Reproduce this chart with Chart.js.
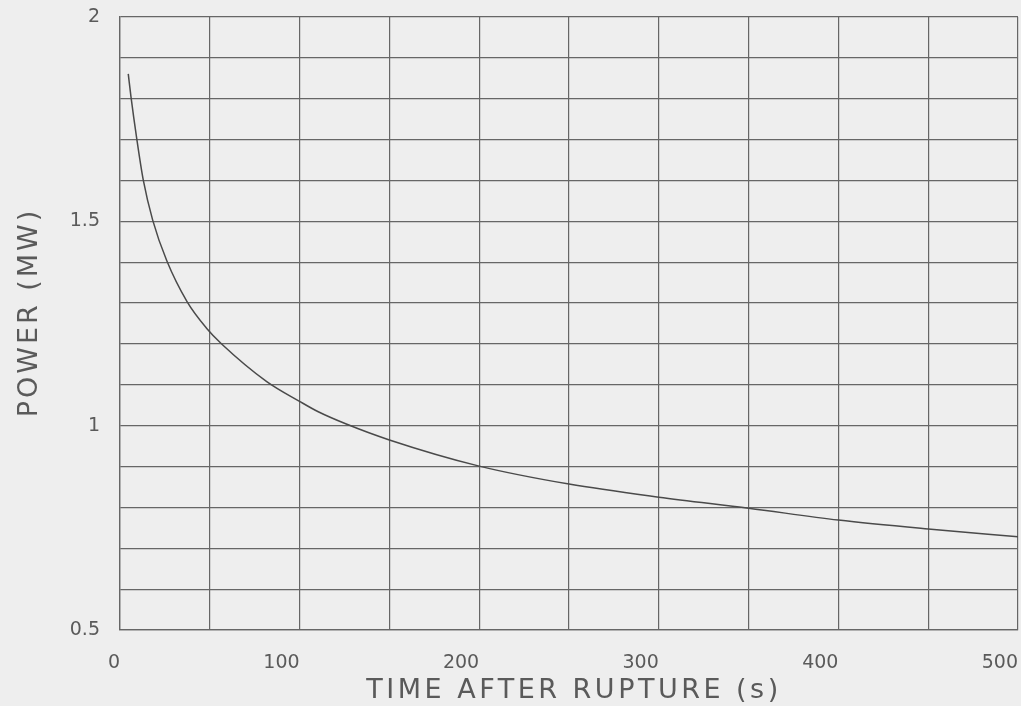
<!DOCTYPE html>
<html>
<head>
<meta charset="utf-8">
<script src="https://cdn.jsdelivr.net/npm/chart.js@4/dist/chart.umd.min.js"></script>
<style>
  html, body { margin: 0; padding: 0; background: #eeeeee; }
  #wrap { width: 1021px; height: 706px; }
</style>
</head>
<body>
<div id="wrap"><canvas id="c" width="1021" height="706"></canvas></div>
<script>
// Data
const timeSeconds = [4.6, 6.1, 9.3, 13, 18.2, 26, 37.4, 48.3, 56.6, 81.7, 100.2, 110.4, 126, 150, 200, 250, 300, 350, 400, 450, 500];
const powerMW     = [1.861, 1.805, 1.703, 1.60, 1.503, 1.404, 1.303, 1.238, 1.200, 1.108, 1.059, 1.034, 1.004, 0.965, 0.901, 0.857, 0.825, 0.798, 0.769, 0.747, 0.728];
const xTickLabels = [0, 100, 200, 300, 400, 500];
const yTickLabels = [0.5, 1, 1.5, 2];
const xTitle = 'TIME AFTER RUPTURE (s)';
const yTitle = 'POWER (MW)';

const ink = '#5a5a5a';
const gridInk = '#666666';

const bgPlugin = {
  id: 'bg',
  beforeDraw(chart) {
    const ctx = chart.ctx;
    ctx.save();
    ctx.fillStyle = '#eeeeee';
    ctx.fillRect(0, 0, chart.width, chart.height);
    ctx.restore();
  }
};

// spaced lettering for the axis titles only
function spaceTitle(scale, spacing, dx, dy) {
  if (scale._spacedTitle) return;
  scale._spacedTitle = true;
  const orig = scale.drawTitle;
  scale.drawTitle = function () {
    const ctx = this.ctx;
    ctx.save();
    ctx.letterSpacing = spacing;
    ctx.translate(dx, dy);
    orig.apply(this, arguments);
    ctx.restore();
  };
}

const pts = timeSeconds.map((t, i) => ({ x: t, y: powerMW[i] }));
const near = (v, arr) => arr.some(a => Math.abs(a - v) < 1e-6);

new Chart(document.getElementById('c'), {
  type: 'line',
  data: {
    datasets: [{
      data: pts,
      borderColor: '#4a4a4a',
      borderWidth: 1.5,
      pointRadius: 0,
      fill: false,
      cubicInterpolationMode: 'monotone'
    }]
  },
  options: {
    responsive: false,
    animation: false,
    devicePixelRatio: 1,
    layout: { padding: { top: 17, right: 3, left: 0, bottom: 0 } },
    plugins: { legend: { display: false }, tooltip: { enabled: false } },
    scales: {
      x: {
        type: 'linear',
        min: 0, max: 500,
        border: { display: true, color: gridInk, width: 1.3 },
        grid: { color: gridInk, lineWidth: 1.2, drawTicks: false },
        ticks: {
          stepSize: 50,
          align: 'end',
          padding: 22,
          color: ink,
          font: { family: 'DejaVu Sans', size: 19 },
          maxRotation: 0,
          autoSkip: false,
          callback: v => near(v, xTickLabels) ? String(v) : ''
        },
        title: {
          display: true,
          text: xTitle,
          color: ink,
          font: { family: 'DejaVu Sans', size: 27 },
          padding: { top: 0, bottom: 0 }
        },
        afterFit(scale) {
          scale.height = 76;
          scale.paddingLeft = 0; scale.paddingRight = 0;
          spaceTitle(scale, '3.5px', 5, 1);
        }
      },
      y: {
        type: 'linear',
        min: 0.5, max: 2,
        border: { display: true, color: gridInk, width: 1.3 },
        grid: { color: gridInk, lineWidth: 1.2, drawTicks: false },
        ticks: {
          stepSize: 0.1,
          padding: 20,
          color: ink,
          font: { family: 'DejaVu Sans', size: 19 },
          autoSkip: false,
          callback: v => near(v, yTickLabels) ? String(+v.toFixed(1)) : ''
        },
        title: {
          display: true,
          text: yTitle,
          color: ink,
          font: { family: 'DejaVu Sans', size: 27 },
          padding: { top: 13, bottom: 0 }
        },
        afterFit(scale) {
          scale.width = 120;
          scale.paddingTop = 0; scale.paddingBottom = 0;
          spaceTitle(scale, '3px', 1, -11);
        }
      }
    }
  },
  plugins: [bgPlugin]
});
</script>
</body>
</html>
